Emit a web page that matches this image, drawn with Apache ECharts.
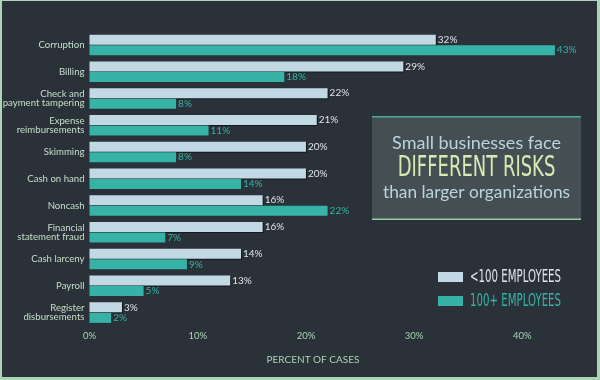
<!DOCTYPE html>
<html><head><meta charset="utf-8">
<script src="https://cdn.jsdelivr.net/npm/echarts@6/dist/echarts.min.js"></script>
<style>html,body{margin:0;padding:0;background:#a9d6b6}#c{width:600px;height:380px}</style>
</head><body><div id="c"></div>
<script>
const categories = ['Corruption','Billing','Check and\npayment tampering','Expense\nreimbursements','Skimming','Cash on hand','Noncash','Financial\nstatement fraud','Cash larceny','Payroll','Register\ndisbursements'];
const small = [32,29,22,21,20,20,16,16,14,13,3];
const large = [43,18,8,11,8,14,22,7,9,5,2];
const seriesNames = ['<100 EMPLOYEES','100+ EMPLOYEES'];
const xTicks = [0,10,20,30,40];
const axisTitle = 'PERCENT OF CASES';
const boxLines = ['Small businesses face','DIFFERENT RISKS','than larger organizations'];

const LIGHT = '#c2d9e5', TEAL = '#37b2a6';
const font = 'Lato, "Open Sans", sans-serif';
const narrow = '"DejaVu Sans", sans-serif';
const chart = echarts.init(document.getElementById('c'));
chart.setOption({
  backgroundColor: '#a9d6b6',
  animation: false,
  grid: {left: 89.5, width: 487, top: 31.5, height: 294.5, containLabel:false, outerBoundsMode:'none'},
  xAxis: {type:'value', min:0, max:45, interval:10,
    axisLine:{show:false}, axisTick:{show:false}, splitLine:{show:false},
    axisLabel:{formatter: v => xTicks.includes(v) ? v+'%' : '', showMaxLabel:false, color:'#a9d4b2', fontSize:9.5, fontFamily:font, margin:5}},
  yAxis: {type:'category', data:categories, inverse:true,
    axisLine:{show:false}, axisTick:{show:false},
    axisLabel:{color:'#c6dfca', fontSize:9.6, lineHeight:9, fontFamily:font, margin:5, align:'right'}},
  legend: {orient:'vertical', left:433, top:267, itemWidth:25, itemHeight:10, itemGap:14, icon:'rect',
    formatter: () => '', data:seriesNames, textStyle:{fontSize:10}},
  graphic: [
    {type:'rect', z:-10, shape:{x:2, y:1, width:595, height:376}, style:{fill:'#2a3139'}},
    {type:'rect', z:-5, shape:{x:372, y:116, width:209, height:104}, style:{fill:'#454e52'}},
    {type:'rect', z:-4, shape:{x:372, y:116, width:209, height:1.5}, style:{fill:'#4fa69a'}},
    {type:'rect', z:-4, shape:{x:372, y:218.5, width:209, height:1.5}, style:{fill:'#9cc9a8'}},
    {type:'text', x:476.5, y:143, style:{text:boxLines[0], fill:'#bad4de', font:'18px '+font, align:'center', verticalAlign:'middle'}},
    {type:'text', x:476.5, y:168, scaleX:0.62, style:{text:boxLines[1], fill:'#d6ebb4', font:'29px '+narrow, align:'center', verticalAlign:'middle'}},
    {type:'text', x:476.5, y:192, style:{text:boxLines[2], fill:'#bad4de', font:'17.3px '+font, align:'center', verticalAlign:'middle'}},
    {type:'text', x:313, y:360, style:{text:axisTitle, fill:'#a9d4b2', font:'10px '+font, align:'center', verticalAlign:'middle'}},
    {type:'text', x:470, y:277.5, scaleX:0.6, style:{text:seriesNames[0], fill:'#dfe6ea', font:'17px '+narrow, verticalAlign:'middle'}},
    {type:'text', x:470, y:301.5, scaleX:0.6, style:{text:seriesNames[1], fill:TEAL, font:'17px '+narrow, verticalAlign:'middle'}}
  ],
  series: [
    {name:seriesNames[0], type:'bar', data:small, barWidth:10, barGap:'5%',
      itemStyle:{color:LIGHT, shadowColor:'rgba(0,0,0,0.5)', shadowOffsetX:1, shadowOffsetY:1},
      label:{show:true, position:'right', distance:2, formatter:'{c}%', color:'#dde5e9', fontSize:10, fontFamily:font}},
    {name:seriesNames[1], type:'bar', data:large, barWidth:10,
      itemStyle:{color:TEAL},
      label:{show:true, position:'right', distance:2, formatter:'{c}%', color:TEAL, fontSize:10, fontFamily:font}}
  ]
});
</script></body></html>
